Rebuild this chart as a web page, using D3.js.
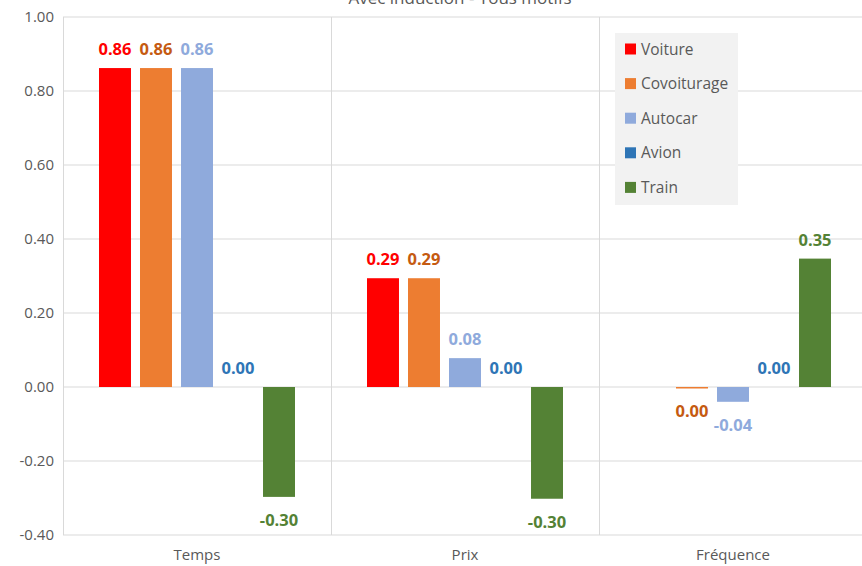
<!DOCTYPE html>
<html>
<head>
<meta charset="utf-8">
<script src="https://cdn.jsdelivr.net/npm/d3@7"></script>
<style>
  body { margin: 0; background: #fff; }
  text { font-family: "Open Sans", "Liberation Sans", sans-serif; }
</style>
</head>
<body>
<svg id="chart" width="862" height="566"></svg>
<script>
const categories = ["Temps", "Prix", "Fréquence"];
const series = ["Voiture", "Covoiturage", "Autocar", "Avion", "Train"];
const voiture = [0.862, 0.294, null];
const covoiturage = [0.862, 0.294, -0.004];
const autocar = [0.862, 0.078, -0.04];
const avion = [0.0, 0.0, 0.0];
const train = [-0.297, -0.302, 0.347];
const yTicks = [-0.4, -0.2, 0, 0.2, 0.4, 0.6, 0.8, 1.0];

const barColors = ["#FF0000", "#ED7D31", "#8FAADC", "#2E75B6", "#548235"];
const labelColors = ["#FF0000", "#C55A11", "#8FAADC", "#2E75B6", "#548235"];
const values = [voiture, covoiturage, autocar, avion, train];

const margin = {top: 17, left: 63};
const plotW = 804, plotH = 518;

const svg = d3.select('#chart');
const g = svg.append('g').attr('transform', `translate(${margin.left},${margin.top})`);

const x0 = d3.scaleBand().domain(categories).range([0, plotW]);
const x1 = d3.scaleBand().domain(series).range([36, x0.bandwidth() - 36]).paddingInner(0.22);
const y = d3.scaleLinear().domain([-0.4, 1.0]).range([plotH, 0]);

const fmt = v => Math.abs(v) < 0.005 ? "0.00" : v.toFixed(2);

// horizontal gridlines
g.selectAll('.hgrid').data(yTicks).enter().append('line')
    .attr('x1', 0).attr('x2', plotW)
    .attr('y1', d => y(d)).attr('y2', d => y(d))
    .attr('stroke', '#D9D9D9').attr('stroke-width', 1);

// vertical separators
g.selectAll('.vgrid').data(categories).enter().append('line')
    .attr('x1', d => x0(d) + 0.5).attr('x2', d => x0(d) + 0.5)
    .attr('y1', 0).attr('y2', plotH)
    .attr('stroke', '#D9D9D9').attr('stroke-width', 1);

// y axis labels
const yAxis = d3.axisLeft(y).tickValues(yTicks).tickFormat(fmt).tickSize(0).tickPadding(9);
const ya = g.append('g').call(yAxis);
ya.select('.domain').remove();
ya.selectAll('text').attr('fill', '#595959').style('font-size', '15px')
    .style('font-family', '"Open Sans", "Liberation Sans", sans-serif');

// x axis labels
const xAxis = d3.axisBottom(x0).tickSize(0).tickPadding(14);
const xa = g.append('g').attr('transform', `translate(0,${plotH})`).call(xAxis);
xa.select('.domain').remove();
xa.selectAll('text').attr('fill', '#595959').style('font-size', '15px')
    .style('font-family', '"Open Sans", "Liberation Sans", sans-serif');

// bars and labels
const points = [];
series.forEach((s, i) => {
  categories.forEach((c, j) => {
    if (values[i][j] !== null) points.push({s: s, i: i, c: c, v: values[i][j]});
  });
});

g.selectAll('.bar').data(points).enter().append('rect')
    .attr('x', d => x0(d.c) + x1(d.s))
    .attr('width', x1.bandwidth())
    .attr('y', d => y(Math.max(0, d.v)))
    .attr('height', d => Math.max(Math.abs(y(d.v) - y(0)), d.v !== 0 ? 1.5 : 0))
    .attr('fill', d => barColors[d.i]);

g.selectAll('.lbl').data(points).enter().append('text')
    .attr('x', d => x0(d.c) + x1(d.s) + x1.bandwidth() / 2)
    .attr('y', d => d.v < 0 ? y(d.v) + 29 : y(d.v) - 13)
    .attr('text-anchor', 'middle')
    .attr('fill', d => labelColors[d.i])
    .style('font-size', '16.5px').style('font-weight', 'bold')
    .text(d => fmt(d.v));

// legend
const legend = svg.append('g').attr('transform', 'translate(615,33)');
legend.append('rect').attr('width', 123).attr('height', 172).attr('fill', '#F2F2F2');
series.forEach((s, i) => {
  const row = legend.append('g').attr('transform', `translate(10,${16 + i * 34.6})`);
  row.append('rect').attr('x', 0).attr('y', -5.5).attr('width', 11).attr('height', 11).attr('fill', barColors[i]);
  row.append('text').attr('x', 16).attr('y', 5.5).attr('fill', '#595959')
      .style('font-size', '15.5px').text(s);
});

// title (cut off at top, as in the reference)
svg.append('text').attr('x', 460).attr('y', 4).attr('text-anchor', 'middle')
    .attr('fill', '#595959').style('font-size', '17px').text('Avec induction - Tous motifs');
</script>
</body>
</html>
